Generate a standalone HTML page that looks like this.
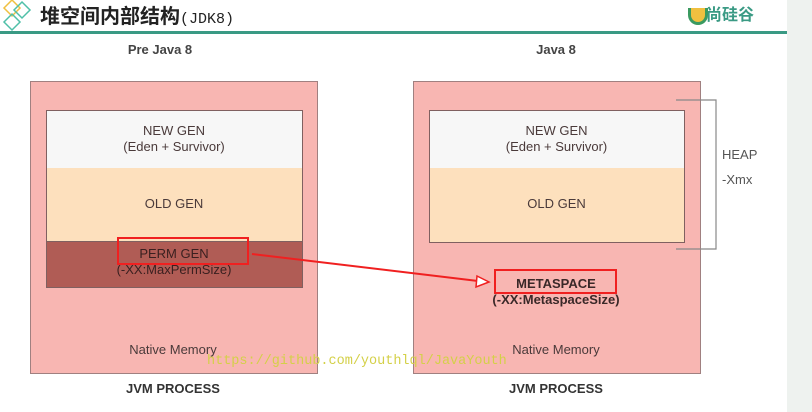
<!DOCTYPE html>
<html><head><meta charset="utf-8"><style>
body{margin:0;width:812px;height:412px;background:#fff;position:relative;overflow:hidden;font-family:"Liberation Sans","Noto Sans CJK SC",sans-serif}
.a{position:absolute}
.t{position:absolute;text-align:center;color:#4a3a3a;font-size:13px;line-height:16px}
</style></head><body>
<div class="a" style="left:787px;top:0;width:25px;height:412px;background:#eef2ef"></div>
<div class="a" style="left:0;top:31px;width:787px;height:3px;background:#3a9a84"></div>
<svg class="a" style="left:0;top:0" width="60" height="34"><g fill="none" stroke-width="1.5"><path d="M12 0 L20 8 L12 16 L4 8Z" stroke="#f0c040"/><path d="M22 2 L30 10 L22 18 L14 10Z" stroke="#4fc0a8"/><path d="M12 14 L20 22 L12 30 L4 22Z" stroke="#4fc0a8"/></g></svg>
<div class="a" style="left:40px;top:4px;font-size:20px;font-weight:bold;color:#222;line-height:26px">堆空间内部结构<span style="font-size:15px;font-weight:normal;font-family:'Liberation Mono',monospace">(JDK8)</span></div>
<div class="a" style="left:688px;top:8px;width:14px;height:14px;border:3px solid #3a9a60;border-top:none;border-radius:0 0 10px 10px;background:#f0c040"></div>
<div class="a" style="left:706px;top:5px;font-size:16px;color:#3a9a84;line-height:22px;font-weight:bold">尚硅谷</div>

<div class="t" style="left:60px;width:200px;top:42px;font-weight:bold;color:#444">Pre Java 8</div>
<div class="t" style="left:456px;width:200px;top:42px;font-weight:bold;color:#444">Java 8</div>

<div class="a" style="left:30px;top:81px;width:286px;height:291px;background:#f8b6b2;border:1px solid #a08080"></div>
<div class="a" style="left:46px;top:110px;width:255px;height:58px;background:#f7f7f7;border:1px solid #806060;border-bottom:none"></div>
<div class="a" style="left:46px;top:168px;width:255px;height:73px;background:#fde0bd;border:1px solid #806060;border-top:none;border-bottom:none"></div>
<div class="a" style="left:46px;top:241px;width:255px;height:45px;background:#b05c55;border:1px solid #806060"></div>
<div class="t" style="left:46px;width:256px;top:123px">NEW GEN<br>(Eden + Survivor)</div>
<div class="t" style="left:46px;width:256px;top:196px">OLD GEN</div>
<div class="t" style="left:46px;width:256px;top:246px;color:#3a2020">PERM GEN<br>(-XX:MaxPermSize)</div>
<div class="a" style="left:117px;top:237px;width:128px;height:24px;border:2px solid #f02020"></div>
<div class="t" style="left:60px;width:226px;top:342px">Native Memory</div>
<div class="t" style="left:60px;width:226px;top:381px;font-weight:bold;color:#333">JVM PROCESS</div>

<div class="a" style="left:413px;top:81px;width:286px;height:291px;background:#f8b6b2;border:1px solid #a08080"></div>
<div class="a" style="left:429px;top:110px;width:254px;height:58px;background:#f7f7f7;border:1px solid #806060;border-bottom:none"></div>
<div class="a" style="left:429px;top:168px;width:254px;height:74px;background:#fde0bd;border:1px solid #806060;border-top:none"></div>
<div class="t" style="left:429px;width:255px;top:123px">NEW GEN<br>(Eden + Survivor)</div>
<div class="t" style="left:429px;width:255px;top:196px">OLD GEN</div>
<div class="a" style="left:494px;top:269px;width:119px;height:21px;border:2px solid #f02020"></div>
<div class="t" style="left:456px;width:200px;top:276px;font-weight:bold;color:#3a2828">METASPACE<br>(-XX:MetaspaceSize)</div>
<div class="t" style="left:456px;width:200px;top:342px">Native Memory</div>
<div class="t" style="left:456px;width:200px;top:381px;font-weight:bold;color:#333">JVM PROCESS</div>

<svg class="a" style="left:0;top:0" width="812" height="412">
<path d="M676 100 H716 V249 H676" fill="none" stroke="#888" stroke-width="1.2"/>
<line x1="252" y1="254" x2="478" y2="281" stroke="#f02020" stroke-width="2"/>
<path d="M477 276 L489 282 L476 287Z" fill="#fff" stroke="#f02020" stroke-width="1.5"/>
</svg>
<div class="t" style="left:722px;top:147px;text-align:left;color:#555">HEAP</div>
<div class="t" style="left:722px;top:172px;text-align:left;color:#555">-Xmx</div>
<div class="a" style="left:207px;top:354px;font-family:'Liberation Mono',monospace;font-size:13.5px;color:#d4d048;line-height:16px">https://github.com/youthlql/JavaYouth</div>
</body></html>
